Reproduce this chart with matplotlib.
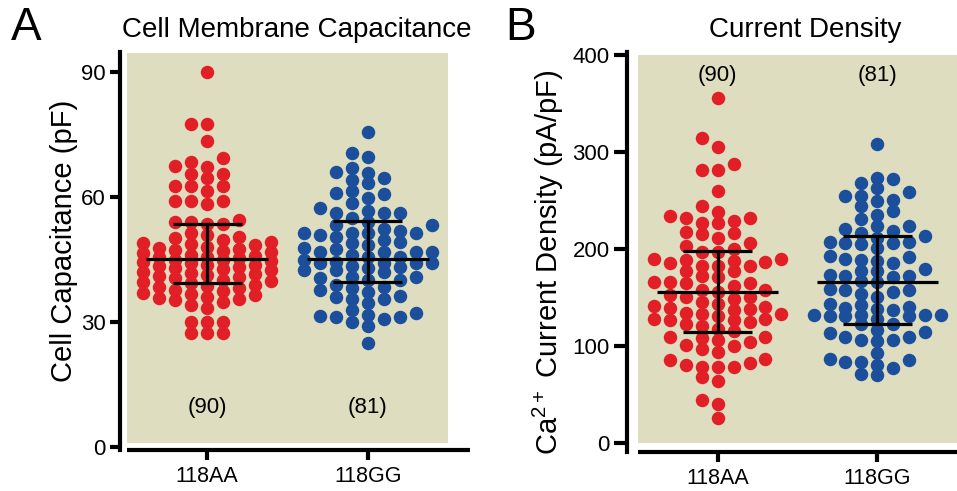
import numpy as np
import matplotlib
matplotlib.use("Agg")
import matplotlib.pyplot as plt
from matplotlib.patches import Rectangle

plt.rcParams['font.family'] = ['Liberation Sans', 'DejaVu Sans']
plt.rcParams['mathtext.fontset'] = 'custom'
plt.rcParams['mathtext.rm'] = 'Liberation Sans'

# ---------------- data ----------------
categories = ["118AA", "118GG"]
n_labels = ["(90)", "(81)"]

cap_aa = [90.0, 77.4, 77.4, 73.4, 69.2, 68.4, 67.4, 67.2, 65.4, 65.4, 64.4,
          62.5, 62.5, 62.5, 61.4, 59.0, 59.0, 59.0, 58.3,
          54.5, 53.5, 53.5, 54.0, 54.0,
          33.3, 30.0, 30.0, 30.0, 27.3, 27.3, 27.3, 33.9,
          34.7, 35.4, 35.2, 35.9, 36.6, 37.0, 36.3, 37.7, 38.1, 37.4, 38.6, 38.9, 35.6, 38.3,
          39.4, 40.1, 39.6, 40.9, 40.4, 41.5, 42.0, 41.2, 42.6, 43.1, 42.3, 43.7, 43.4, 44.2,
          42.8, 44.6, 44.9, 39.8, 40.7, 41.8, 43.6, 44.4, 44.8,
          45.2, 45.8, 45.5, 46.4, 46.9, 46.1, 47.5, 48.0, 47.2, 48.6, 48.3, 49.2, 49.7, 48.9,
          50.3, 50.8, 50.0, 51.3, 45.6, 46.7, 47.7]
cap_gg = [75.6, 70.6, 69.6, 66.8, 66.0, 65.8, 64.5, 64.1, 63.2, 61.4, 60.6, 60.8, 59.6,
          58.6, 56.6, 57.2, 56.1, 56.1, 56.1, 55.0, 54.0, 53.2, 53.2, 52.2, 51.2, 51.3,
          51.8, 50.8, 51.3, 51.2, 50.4, 48.8, 49.2, 48.4, 49.6, 47.4, 46.8, 47.6, 46.8,
          46.8, 46.8, 45.6, 45.5, 46.0, 44.4, 44.0, 43.4, 44.0, 44.0, 44.0, 42.8, 43.2,
          42.4, 42.4, 42.0, 40.4, 40.0, 40.8, 40.0, 40.8, 38.4, 37.7, 38.0, 38.8, 37.2,
          36.0, 36.2, 35.4, 34.6, 35.4, 32.8, 31.2, 31.5, 30.6, 31.2, 31.4, 32.0, 30.0,
          29.0, 24.8, 44.9]
cap_median = [45.0, 45.0]
cap_q1 = [39.2, 39.5]
cap_q3 = [53.4, 54.2]

cd_aa = [355.8, 314, 305, 288, 282, 282, 260, 244.6, 233.7, 237.8, 231.6, 232.6, 227,
         226.5, 228.5, 218, 217, 215.5, 212, 206, 196.7, 200, 196.7, 188, 189, 187, 190,
         190, 183, 183, 183, 178, 177, 171, 165, 166, 162.5, 165, 166, 155.7, 158.4,
         158.4, 151, 149, 150.5, 140, 139, 146, 133, 134, 138.6, 141, 133, 137, 126.6,
         128, 123, 128, 127, 121, 125, 116, 106, 109, 100, 104, 108, 109.5, 101, 97.5,
         94, 86.6, 82.8, 86, 78.7, 78.7, 79, 81, 68.4, 64.3, 40.4, 45, 25.7,
         203, 186, 172, 153, 143, 131, 118]
cd_gg = [308, 273.7, 272.7, 268, 262.7, 255, 254.5, 259, 250.4, 249.7, 244.6, 238.8,
         235, 231, 224, 220.7, 223.4, 219, 217, 212, 214, 206, 206, 205, 207, 207, 201,
         193, 190, 192, 188, 189, 186, 179.6, 178, 177, 171, 172.8, 172.8, 173.8, 166,
         167.6, 156, 158, 158, 159, 154, 150.5, 142.7, 143.7, 139, 137, 138.6, 140,
         131.7, 131.7, 131.7, 131.7, 131, 130.7, 128, 130.7, 123, 123, 114.6, 117, 113.6,
         109.5, 106.7, 105, 106.7, 110, 93, 83.8, 83.8, 85.5, 87, 78, 80.4, 70, 71]
cd_median = [155.5, 165.8]
cd_q1 = [115.0, 122.9]
cd_q3 = [198.0, 213.5]

RED = '#E21F26'
BLUE = '#1B4F9C'
BEIGE = '#DEDDBF'

fig = plt.figure(figsize=(9.57, 4.91), dpi=100)


def swarm_x(ax, vals, xc, dx=0.0997, d_px=10.0, maxk=4):
    vals = np.asarray(vals, float)
    ypx = ax.transData.transform(np.column_stack([np.full(len(vals), xc), vals]))[:, 1]
    order = np.argsort(vals)
    cols = {}
    offs = np.zeros(len(vals))
    tries = [0]
    for k in range(1, maxk + 1):
        tries += [-k, k]
    for i in order:
        y = ypx[i]
        chosen = None
        for k in tries:
            if all(abs(y - yy) >= d_px for yy in cols.get(k, [])):
                chosen = k
                break
        if chosen is None:
            best = -1
            for k in tries:
                m = min([abs(y - yy) for yy in cols.get(k, [])] or [1e9])
                if m > best:
                    best = m
                    chosen = k
        cols.setdefault(chosen, []).append(y)
        offs[i] = chosen
    return xc + offs * dx


def panel(rect, ylim, beige_y, yticks, ysp_bounds, xsp_bounds, groups, med, q1, q3,
          nlab_y, ylabel, ylab_x, yoff, ticklen):
    ax = fig.add_axes(rect)
    ax.set_xlim(-0.5, 1.5)
    ax.set_ylim(*ylim)
    ax.set_facecolor('none')
    ax.add_patch(Rectangle((-0.5, beige_y[0]), 2.0, beige_y[1] - beige_y[0],
                           facecolor=BEIGE, edgecolor='none', zorder=0))
    for s in ['top', 'right']:
        ax.spines[s].set_visible(False)
    ax.spines['left'].set_position(('outward', yoff))
    ax.spines['left'].set_linewidth(3.0)
    ax.spines['bottom'].set_linewidth(3.0)
    ax.spines['left'].set_bounds(*ysp_bounds)
    ax.spines['bottom'].set_bounds(*xsp_bounds)
    ax.spines['bottom'].set_capstyle('butt')
    ax.set_yticks(yticks)
    ax.set_xticks([0, 1])
    ax.set_xticklabels(categories)
    ax.tick_params(axis='y', length=ticklen, width=3.0, labelsize=16, pad=3)
    ax.tick_params(axis='x', length=7.5, width=3.0, labelsize=15.5, pad=4)
    fig.canvas.draw()
    for i, (vals, col) in enumerate(zip(groups, [RED, BLUE])):
        xs = swarm_x(ax, vals, i)
        ax.plot(xs, vals, 'o', color=col, markersize=9.7, markeredgewidth=0,
                zorder=2, clip_on=False)
        ax.plot([i - 0.38, i + 0.38], [med[i], med[i]], color='black', lw=2.3, zorder=3,
                solid_capstyle='butt')
        ax.plot([i - 0.215, i + 0.215], [q1[i], q1[i]], color='black', lw=2.3, zorder=3,
                solid_capstyle='butt')
        ax.plot([i - 0.215, i + 0.215], [q3[i], q3[i]], color='black', lw=2.3, zorder=3,
                solid_capstyle='butt')
        ax.plot([i, i], [q1[i], q3[i]], color='black', lw=2.3, zorder=3,
                solid_capstyle='butt')
        ax.text(i, nlab_y, n_labels[i], ha='center', va='center', fontsize=16)
    return ax


axA = panel([127 / 957, 1 - 450 / 491, 321 / 957, 397 / 491], (-0.8, 94.5), (0.96, 94.5),
            [0, 30, 60, 90], (-0.8, 94.7), (-0.5, 1.64), [cap_aa, cap_gg],
            cap_median, cap_q1, cap_q3, 9.5, None, None, 5, 7.5)
axB = panel([638 / 957, 1 - 451.7 / 491, 319 / 957, 396.7 / 491], (-8.65, 400), (0, 400),
            [0, 100, 200, 300, 400], (-8.65, 403), (-0.5, 1.5), [cd_aa, cd_gg],
            cd_median, cd_q1, cd_q3, 379, None, None, 8, 9.5)

fig.text(64 / 957, 1 - 241 / 491, "Cell Capacitance (pF)", rotation=90, ha='center',
         va='center', fontsize=21)
fig.text(548 / 957, 1 - 262 / 491, r"Ca$\mathregular{^{2+}}$ Current Density (pA/pF)",
         rotation=90, ha='center', va='center', fontsize=21)
fig.text(297 / 957, 1 - 30 / 491, "Cell Membrane Capacitance", ha='center', va='center',
         fontsize=20)
fig.text(805 / 957, 1 - 30 / 491, "Current Density", ha='center', va='center', fontsize=20)
fig.text(26 / 957, 1 - 28 / 491, "A", ha='center', va='center', fontsize=33)
fig.text(521 / 957, 1 - 28 / 491, "B", ha='center', va='center', fontsize=33)

fig.savefig("out.png", dpi=100)
